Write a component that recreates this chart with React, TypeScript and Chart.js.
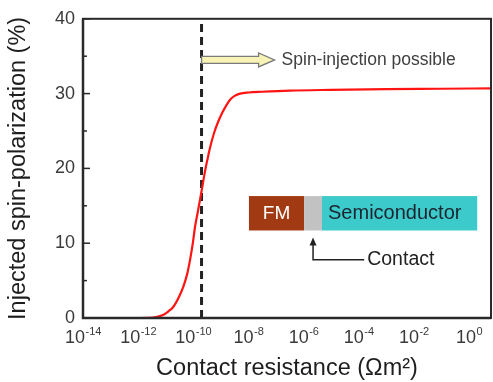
import React, { useEffect, useRef } from "react";
import { Chart, registerables } from "chart.js";

Chart.register(...registerables);

// log10 of contact resistance (Ωm²)
const resistanceExp = [-13.13, -12.5, -11.93, -11.6, -11.35, -11.1, -10.9, -10.72, -10.52, -10.36, -10.22, -10.12, -10.02, -9.94, -9.85, -9.76, -9.66, -9.57, -9.48, -9.39, -9.24, -9.09, -8.94, -8.79, -8.65, -8.5, -8.3, -8.0, -7.5, -6.5, -5.0, -3.0, -1.0, 0.8];
// injected spin-polarization (%)
const polarization = [0, 0, 0, 0.02, 0.12, 0.4, 0.9, 1.5, 2.8, 4.2, 5.9, 7.7, 9.9, 12.1, 13.9, 15.7, 17.8, 19.7, 21.3, 22.8, 24.8, 26.3, 27.5, 28.5, 29.25, 29.7, 30.0, 30.15, 30.25, 30.4, 30.5, 30.6, 30.65, 30.7];

const baseSegmentExp = [-14, -13.55];
const baseSegmentVal = [0, 0];

const xTickExps = [-14, -12, -10, -8, -6, -4, -2, 0];
const yMajorTicks = [0, 10, 20, 30, 40];
const yMinorTicks = [5, 15, 25, 35];

const thresholdExp = -9.7;
const arrowTipExp = -7.05;
const arrowLevel = 34.5;
const arrowLabel = "Spin-injection possible";
const xTitle = "Contact resistance (Ωm²)";
const yTitle = "Injected spin-polarization (%)";
const insetLabels = ["FM", "Semiconductor", "Contact"];

const FONT = "'Liberation Sans', Arial, Helvetica, sans-serif";

const decorPlugin = {
  id: "decor",
  afterDatasetsDraw(chart: any) {
    const { ctx, chartArea, scales } = chart;
    const xs = scales.x;
    const ys = scales.y;
    const { left, right, top, bottom } = chartArea;
    ctx.save();

    // frame
    ctx.strokeStyle = "#2a2a2a";
    ctx.lineWidth = 2;
    ctx.strokeRect(left, top, right - left, bottom - top);
    ctx.lineWidth = 2.5;
    ctx.beginPath();
    ctx.moveTo(left, top);
    ctx.lineTo(left, bottom);
    ctx.lineTo(right, bottom);
    ctx.stroke();

    // inward y ticks
    ctx.lineWidth = 1.5;
    yMajorTicks.forEach((v) => {
      const y = ys.getPixelForValue(v);
      ctx.beginPath();
      ctx.moveTo(left, y);
      ctx.lineTo(left + 7, y);
      ctx.stroke();
    });
    yMinorTicks.forEach((v) => {
      const y = ys.getPixelForValue(v);
      ctx.beginPath();
      ctx.moveTo(left, y);
      ctx.lineTo(left + 4, y);
      ctx.stroke();
    });

    // x tick labels with superscript exponents
    ctx.fillStyle = "#3a3a3a";
    ctx.textBaseline = "alphabetic";
    ctx.textAlign = "left";
    xTickExps.forEach((e) => {
      const px = xs.getPixelForValue(e);
      const base = "10";
      const sup = e === 0 ? "0" : "-" + String(Math.abs(e));
      ctx.font = `18px ${FONT}`;
      const w1 = ctx.measureText(base).width;
      ctx.font = `11px ${FONT}`;
      const w2 = ctx.measureText(sup).width;
      const x0 = px - (w1 + w2) / 2;
      ctx.font = `18px ${FONT}`;
      ctx.fillText(base, x0, bottom + 25);
      ctx.font = `11px ${FONT}`;
      ctx.fillText(sup, x0 + w1 + 0.5, bottom + 17);
    });

    // hollow arrow "Spin-injection possible"
    const ax0 = xs.getPixelForValue(thresholdExp);
    const ax1 = xs.getPixelForValue(arrowTipExp);
    const ay = ys.getPixelForValue(arrowLevel);
    const headLen = 16;
    const shaftH = 3.5;
    const headH = 7;
    ctx.beginPath();
    ctx.moveTo(ax0, ay - shaftH);
    ctx.lineTo(ax1 - headLen, ay - shaftH);
    ctx.lineTo(ax1 - headLen, ay - headH);
    ctx.lineTo(ax1, ay);
    ctx.lineTo(ax1 - headLen, ay + headH);
    ctx.lineTo(ax1 - headLen, ay + shaftH);
    ctx.lineTo(ax0, ay + shaftH);
    ctx.closePath();
    ctx.fillStyle = "#f7f3b6";
    ctx.fill();
    ctx.strokeStyle = "#7a7a7a";
    ctx.lineWidth = 1.3;
    ctx.stroke();
    ctx.fillStyle = "#404040";
    ctx.font = `17.5px ${FONT}`;
    ctx.textBaseline = "middle";
    ctx.fillText(arrowLabel, ax1 + 7, ay + 0.5);

    // inset diagram
    const bx0 = xs.getPixelForValue(-7.98);
    const bx1 = xs.getPixelForValue(-5.98);
    const bx2 = xs.getPixelForValue(-5.33);
    const bx3 = xs.getPixelForValue(0.3);
    const by0 = ys.getPixelForValue(16.3);
    const by1 = ys.getPixelForValue(11.7);
    ctx.fillStyle = "#a13a12";
    ctx.fillRect(bx0, by0, bx1 - bx0, by1 - by0);
    ctx.fillStyle = "#c2c2c2";
    ctx.fillRect(bx1, by0, bx2 - bx1, by1 - by0);
    ctx.fillStyle = "#3ccaca";
    ctx.fillRect(bx2, by0, bx3 - bx2, by1 - by0);
    const bym = (by0 + by1) / 2;
    ctx.textBaseline = "middle";
    ctx.textAlign = "center";
    ctx.font = `19px ${FONT}`;
    ctx.fillStyle = "#ffffff";
    ctx.fillText(insetLabels[0], (bx0 + bx1) / 2, bym + 0.5);
    ctx.textAlign = "left";
    ctx.fillStyle = "#1c2430";
    ctx.font = `20px ${FONT}`;
    ctx.fillText(insetLabels[1], bx2 + 6, bym + 0.5);

    // contact pointer
    const cx = (bx1 + bx2) / 2;
    const tipY = by1 + 7;
    const elbowY = ys.getPixelForValue(7.8);
    const lineEnd = xs.getPixelForValue(-3.8);
    ctx.strokeStyle = "#222222";
    ctx.lineWidth = 1.5;
    ctx.beginPath();
    ctx.moveTo(cx, tipY + 6);
    ctx.lineTo(cx, elbowY);
    ctx.lineTo(lineEnd, elbowY);
    ctx.stroke();
    ctx.fillStyle = "#222222";
    ctx.beginPath();
    ctx.moveTo(cx, tipY);
    ctx.lineTo(cx - 3.5, tipY + 8);
    ctx.lineTo(cx + 3.5, tipY + 8);
    ctx.closePath();
    ctx.fill();
    ctx.font = `19.5px ${FONT}`;
    ctx.fillText(insetLabels[2], lineEnd + 3, elbowY);

    ctx.restore();
  },
};

export default function App() {
  const canvasRef = useRef<HTMLCanvasElement | null>(null);

  useEffect(() => {
    const canvas = canvasRef.current;
    if (!canvas) return;
    const chart = new Chart(canvas, {
      type: "scatter",
      data: {
        datasets: [
          {
            data: baseSegmentExp.map((x, i) => ({ x, y: baseSegmentVal[i] })),
            showLine: true,
            borderColor: "#2a3a9a",
            borderWidth: 1.5,
            pointRadius: 0,
          },
          {
            data: resistanceExp.map((x, i) => ({ x, y: polarization[i] })),
            showLine: true,
            borderColor: "#ff1414",
            borderWidth: 2.2,
            pointRadius: 0,
            cubicInterpolationMode: "monotone",
          },
          {
            data: [
              { x: thresholdExp, y: 0 },
              { x: thresholdExp, y: 39.6 },
            ],
            showLine: true,
            borderColor: "#222222",
            borderWidth: 3,
            borderDash: [8, 5],
            pointRadius: 0,
          },
        ],
      },
      options: {
        responsive: false,
        animation: false,
        events: [],
        layout: { padding: { top: 17, right: 2, left: 0, bottom: 0 } },
        plugins: {
          legend: { display: false },
          tooltip: { enabled: false },
        },
        scales: {
          x: {
            type: "linear",
            min: -14,
            max: 0.8,
            afterBuildTicks: (scale: any) => {
              scale.ticks = xTickExps.map((v) => ({ value: v }));
            },
            afterFit: (scale: any) => {
              scale.height = 64;
            },
            ticks: { display: false },
            grid: { display: false, drawTicks: false },
            border: { display: false },
            title: {
              display: true,
              text: xTitle,
              color: "#1e1e1e",
              font: { family: FONT, size: 23.5, lineHeight: 1.15 },
              padding: { top: 0, bottom: 0 },
            },
          },
          y: {
            type: "linear",
            min: 0,
            max: 40,
            afterBuildTicks: (scale: any) => {
              scale.ticks = yMajorTicks.map((v) => ({ value: v }));
            },
            afterFit: (scale: any) => {
              scale.width = 83;
            },
            ticks: {
              color: "#3a3a3a",
              font: { family: FONT, size: 18 },
              padding: 8,
            },
            grid: { display: false, drawTicks: false },
            border: { display: false },
            title: {
              display: true,
              text: yTitle,
              color: "#1e1e1e",
              font: { family: FONT, size: 23.5, lineHeight: 1.15 },
              padding: { top: 5, bottom: 0 },
            },
          },
        },
      },
      plugins: [decorPlugin],
    });
    return () => chart.destroy();
  }, []);

  return (
    <div style={{ position: "fixed", left: 0, top: 0, width: 493, height: 382, background: "#ffffff" }}>
      <canvas ref={canvasRef} width={493} height={382} style={{ display: "block" }} />
    </div>
  );
}
